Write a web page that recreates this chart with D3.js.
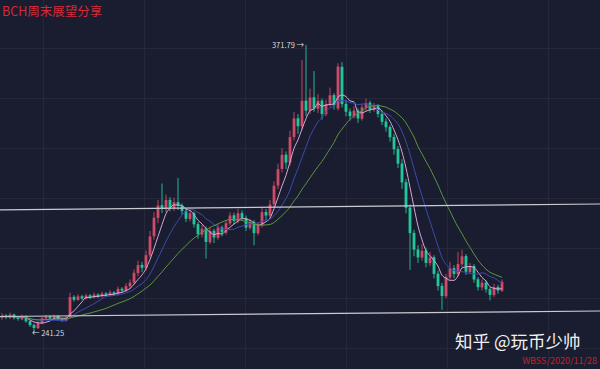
<!DOCTYPE html>
<html>
<head>
<meta charset="utf-8">
<script src="https://cdn.jsdelivr.net/npm/d3@7"></script>
<style>
  body { margin: 0; background: #1a1d2f; }
  svg { display: block; }
</style>
</head>
<body>
<div id="chart"></div>
<script>
// [open, high, low, close], one row per candle
var candles = [
  [248.0, 250.2, 247.2, 249.0], [249.2, 249.8, 247.5, 248.2], [248.0, 250.5, 247.6, 249.5],
  [249.6, 250.0, 247.3, 248.0], [248.2, 248.9, 246.8, 247.6], [247.4, 249.6, 247.0, 248.8],
  [248.9, 249.2, 245.9, 246.5], [246.6, 247.0, 244.0, 244.8], [244.9, 245.5, 241.25, 243.5],
  [243.4, 246.5, 243.0, 245.8], [245.7, 248.6, 245.2, 247.9], [247.8, 249.5, 247.0, 248.6],
  [248.7, 249.3, 247.0, 247.7], [247.6, 249.6, 247.2, 248.9], [249.0, 249.4, 246.9, 247.5],
  [247.6, 248.1, 246.2, 246.8], [246.7, 248.8, 246.3, 248.2], [248.4, 259.5, 248.0, 257.5],
  [257.6, 258.4, 255.5, 256.3], [256.2, 258.8, 255.8, 257.8], [257.9, 258.5, 256.2, 256.9],
  [256.8, 259.0, 256.3, 258.2], [258.3, 258.9, 256.6, 257.4], [257.3, 259.6, 256.9, 258.6],
  [258.7, 259.2, 257.1, 257.9], [257.8, 260.0, 257.3, 259.1], [259.2, 259.8, 257.6, 258.3],
  [258.2, 260.6, 257.8, 259.6], [259.7, 260.2, 258.0, 258.8], [258.7, 262.3, 258.2, 261.2],
  [261.3, 262.0, 259.5, 260.4], [260.3, 263.8, 259.8, 262.5], [262.4, 265.5, 261.4, 264.0],
  [264.1, 270.0, 263.2, 268.5], [268.4, 274.0, 267.0, 272.0], [272.1, 273.5, 268.8, 270.8],
  [270.7, 278.6, 269.5, 276.5], [276.4, 287.5, 275.2, 285.0], [285.1, 296.0, 283.5, 293.5],
  [293.4, 301.5, 291.0, 299.0], [299.2, 309.0, 295.6, 297.5], [297.4, 304.0, 296.0, 301.5],
  [301.6, 302.8, 296.4, 298.0], [297.9, 302.5, 296.5, 300.5], [300.6, 311.5, 297.0, 298.8],
  [298.9, 300.0, 294.8, 296.5], [296.6, 297.5, 291.5, 293.0], [292.9, 297.2, 291.8, 295.5],
  [295.6, 296.3, 289.0, 290.5], [290.6, 291.5, 284.0, 286.0], [285.9, 290.2, 284.6, 288.5],
  [288.6, 289.5, 275.0, 282.5], [282.4, 289.0, 281.5, 287.5], [287.6, 288.5, 282.0, 284.5],
  [284.4, 290.5, 283.5, 289.0], [289.1, 290.0, 285.0, 286.8], [286.7, 292.5, 285.8, 291.0],
  [290.9, 296.0, 290.0, 294.5], [294.6, 295.8, 290.5, 292.0], [291.9, 297.5, 291.0, 295.5],
  [295.6, 296.8, 292.0, 293.5], [293.4, 294.5, 287.5, 289.0], [288.9, 293.0, 288.0, 291.5],
  [291.6, 292.5, 281.0, 286.5], [286.4, 291.5, 285.5, 290.0], [290.1, 298.0, 289.0, 296.0],
  [296.1, 297.5, 292.5, 294.5], [294.4, 301.5, 293.5, 299.5], [299.6, 310.0, 298.5, 308.0],
  [308.1, 318.0, 306.5, 315.5], [315.6, 325.0, 314.0, 322.0], [322.1, 323.5, 315.5, 318.5],
  [318.4, 333.0, 317.0, 330.0], [330.1, 341.5, 328.5, 338.5], [338.6, 340.5, 331.5, 335.0],
  [334.9, 365.0, 333.5, 346.5], [346.6, 371.79, 339.5, 342.0], [341.9, 352.0, 340.5, 348.0],
  [348.1, 360.0, 341.5, 343.0], [342.9, 349.5, 341.0, 346.5], [346.6, 347.5, 338.0, 340.5],
  [340.4, 347.0, 339.5, 345.0], [345.1, 352.5, 344.0, 349.0], [349.1, 350.0, 342.5, 344.5],
  [343.0, 363.5, 342.0, 362.0], [361.9, 364.0, 343.5, 345.0], [345.1, 347.0, 339.5, 341.5],
  [341.6, 343.0, 337.5, 339.5], [339.4, 344.0, 338.5, 342.0], [342.1, 343.0, 336.5, 338.5],
  [338.4, 345.0, 337.5, 343.5], [343.4, 347.5, 342.0, 345.5], [345.6, 346.5, 341.0, 342.5],
  [342.4, 345.5, 341.5, 344.0], [344.1, 345.0, 339.0, 340.5], [340.6, 342.0, 335.5, 337.0],
  [337.1, 338.5, 332.5, 334.5], [334.6, 335.5, 328.0, 330.0], [330.1, 331.5, 322.0, 324.5],
  [324.6, 326.0, 316.0, 318.0], [318.1, 320.0, 306.5, 309.5], [309.6, 311.0, 295.5, 298.0],
  [298.1, 299.5, 269.8, 286.5], [286.6, 288.0, 276.0, 279.0], [279.1, 281.0, 273.0, 275.5],
  [275.4, 281.5, 274.0, 278.5], [278.6, 280.0, 271.0, 273.0], [272.9, 278.0, 271.5, 275.5],
  [275.6, 276.5, 266.0, 268.0], [268.1, 269.5, 260.5, 262.5], [262.6, 264.0, 251.7, 258.0],
  [257.9, 268.0, 257.0, 266.5], [266.4, 273.5, 265.5, 270.5], [270.6, 272.0, 266.0, 268.0],
  [267.9, 278.0, 267.0, 272.5], [272.4, 279.0, 271.0, 276.0], [276.1, 277.0, 267.5, 269.0],
  [268.9, 273.0, 268.0, 271.5], [271.6, 272.5, 264.0, 265.5], [265.6, 266.5, 260.5, 262.0],
  [261.9, 265.5, 260.5, 264.0], [264.1, 265.0, 259.5, 261.0], [261.1, 262.0, 256.0, 258.5],
  [258.4, 263.5, 257.5, 262.0], [262.1, 263.0, 259.0, 260.5], [260.4, 265.5, 259.8, 264.5]
];

// moving averages drawn on the chart
var maPeriods = [5, 10, 20];
var maColors = ["#dba2d8", "#3b49b0", "#5a9440"];

// two hand-drawn support / resistance lines, [candle index, price]
var trendLines = [
  [[-0.5, 297.0], [149.5, 299.7]],
  [[-0.5, 248.7], [149.5, 251.2]]
];

var peakMark = {idx: 76, price: 371.79, text: "371.79"};
var lowMark = {idx: 8, price: 241.25, text: "241.25"};

var title = "BCH周末展望分享";
var watermark = "知乎 @玩币少帅";
var stamp = "WBSS/2020/11/28";

var W = 600, H = 369;
var upColor = "#cf4a66", downColor = "#21c79c";

var svg = d3.select("#chart").append("svg")
  .attr("width", W)
  .attr("height", H)
  .style("font-family", "'Noto Sans CJK SC', 'Noto Sans', sans-serif");

svg.append("rect").attr("width", W).attr("height", H).attr("fill", "#1a1d2f");

var x = d3.scaleLinear().domain([0, candles.length - 1]).range([2, 502]);
var y = d3.scaleLinear().domain([224.9, 392.2]).range([H, 0]);

// faint background grid
var grid = svg.append("g").attr("stroke", "#242839").attr("stroke-width", 1);
grid.selectAll("line.v")
  .data(d3.range(43, W, 101))
  .enter().append("line")
  .attr("class", "v")
  .attr("x1", d => d + 0.5).attr("x2", d => d + 0.5)
  .attr("y1", 0).attr("y2", H);
grid.selectAll("line.h")
  .data(d3.range(48, H, 50))
  .enter().append("line")
  .attr("class", "h")
  .attr("x1", 0).attr("x2", W)
  .attr("y1", d => d + 0.5).attr("y2", d => d + 0.5);

// candles
var bw = 2.8;
var cs = svg.append("g").selectAll("g.candle")
  .data(candles)
  .enter().append("g")
  .attr("class", "candle");
cs.append("line")
  .attr("x1", (d, i) => x(i)).attr("x2", (d, i) => x(i))
  .attr("y1", d => y(d[1])).attr("y2", d => y(d[2]))
  .attr("stroke", d => d[3] >= d[0] ? upColor : downColor)
  .attr("stroke-width", 0.9);
cs.append("rect")
  .attr("x", (d, i) => x(i) - bw / 2)
  .attr("y", d => y(Math.max(d[0], d[3])))
  .attr("width", bw)
  .attr("height", d => Math.max(1, Math.abs(y(d[0]) - y(d[3]))))
  .attr("fill", d => d[3] >= d[0] ? upColor : downColor);

// moving averages
var closes = candles.map(d => d[3]);
function sma(n) {
  return closes.map(function(c, i) {
    return d3.mean(closes.slice(Math.max(0, i - n + 1), i + 1));
  });
}
var line = d3.line().x((d, i) => x(i)).y(d => y(d)).curve(d3.curveMonotoneX);
maPeriods.forEach(function(n, k) {
  svg.append("path")
    .datum(sma(n))
    .attr("d", line)
    .attr("fill", "none")
    .attr("stroke", maColors[k])
    .attr("stroke-width", 1);
});

// trend lines
svg.selectAll("line.trend")
  .data(trendLines)
  .enter().append("line")
  .attr("class", "trend")
  .attr("x1", d => x(d[0][0])).attr("y1", d => y(d[0][1]))
  .attr("x2", d => x(d[1][0])).attr("y2", d => y(d[1][1]))
  .attr("stroke", "#c9cad3")
  .attr("stroke-width", 1.2);

// high / low marks
svg.append("text")
  .attr("x", x(peakMark.idx) - 2)
  .attr("y", y(peakMark.price))
  .attr("dy", "0.35em")
  .attr("text-anchor", "end")
  .attr("font-size", 7.5)
  .attr("fill", "#d8d8de")
  .text(peakMark.text + " →");
svg.append("text")
  .attr("x", x(lowMark.idx) - 2)
  .attr("y", y(lowMark.price))
  .attr("dy", "0.35em")
  .attr("font-size", 7.5)
  .attr("fill", "#d8d8de")
  .text("← " + lowMark.text);

// title and watermark
svg.append("text")
  .attr("x", 2).attr("y", 16)
  .attr("font-size", 12.5)
  .attr("fill", "#d42a38")
  .text(title);
svg.append("text")
  .attr("x", 455).attr("y", 348)
  .attr("font-size", 17.5)
  .attr("fill", "#f2f2f2")
  .text(watermark);
svg.append("text")
  .attr("x", 597).attr("y", 364)
  .attr("text-anchor", "end")
  .attr("font-size", 9)
  .attr("fill", "#c4202c")
  .text(stamp);
</script>
</body>
</html>
